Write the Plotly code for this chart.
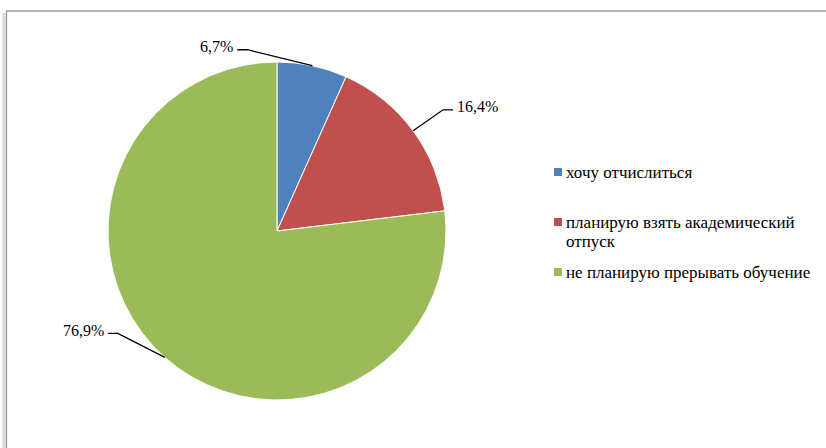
import math
import plotly.graph_objects as go

# Survey answers and their shares, %
categories = [
    "хочу отчислиться",
    "планирую взять академический отпуск",
    "не планирую прерывать обучение",
]
legend_lines = [
    ["хочу отчислиться"],
    ["планирую взять академический", "отпуск"],
    ["не планирую прерывать обучение"],
]
shares = [6.7, 16.4, 76.9]
value_labels = ["6,7%", "16,4%", "76,9%"]
colors = ["#4F81BD", "#C0504D", "#9BBB59"]

# Canvas and pie geometry (pixels)
W, H = 826, 448
CX, CY, R = 277, 231, 169
FONT = "Liberation Serif, Times New Roman, serif"

# Leader-line elbow offsets from the slice edge, and tail direction
elbow_offsets = [(-65, -16), (30, -21), (-47, -24)]
tail_dirs = [-1, 1, -1]
TAIL = 10


def px(x):
    return x / W


def py(y):
    return 1 - y / H


fig = go.Figure(
    go.Pie(
        labels=categories,
        values=shares,
        sort=False,
        direction="clockwise",
        rotation=0,
        marker=dict(colors=colors, line=dict(color="white", width=1)),
        textinfo="none",
        hoverinfo="label+percent",
        showlegend=False,
        domain=dict(x=[px(CX - R), px(CX + R)], y=[py(CY + R), py(CY - R)]),
    )
)

shapes = []
annotations = []

# Outside value labels with leader lines, placed from each slice's mid-angle
total = sum(shares)
cum = 0.0
for val, lab, (dx, dy), d in zip(shares, value_labels, elbow_offsets, tail_dirs):
    mid = (cum + val / 2) / total * 2 * math.pi
    cum += val
    ax = CX + R * math.sin(mid)
    ay = CY - R * math.cos(mid)
    ex, ey = ax + dx, ay + dy
    tx = ex + d * TAIL
    path = f"M {px(ax)} {py(ay)} L {px(ex)} {py(ey)} L {px(tx)} {py(ey)}"
    shapes.append(dict(type="path", xref="paper", yref="paper", path=path,
                       line=dict(color="black", width=1.3)))
    annotations.append(dict(
        x=px(tx + d * 2), y=py(ey - 3), xref="paper", yref="paper",
        text=lab, showarrow=False,
        xanchor="left" if d > 0 else "right", yanchor="middle",
        font=dict(family=FONT, size=16, color="black"),
    ))

# Legend: colour squares with category text
legend_y = [172, 222, 272]
LINE_H = 19
for color, lines, y in zip(colors, legend_lines, legend_y):
    shapes.append(dict(type="rect", xref="paper", yref="paper",
                       x0=px(554), x1=px(562), y0=py(y - 4), y1=py(y + 4),
                       fillcolor=color, line=dict(width=0)))
    for i, line in enumerate(lines):
        annotations.append(dict(
            x=px(564), y=py(y + i * LINE_H), xref="paper", yref="paper",
            text=line, showarrow=False, xanchor="left", yanchor="middle",
            font=dict(family=FONT, size=17, color="black"),
        ))

# Chart frame with a soft shadow on the left
shapes.append(dict(type="line", xref="paper", yref="paper",
                   x0=px(4), x1=px(4), y0=py(13), y1=py(H + 5),
                   line=dict(color="#d6d6d6", width=3)))
shapes.append(dict(type="rect", xref="paper", yref="paper",
                   x0=px(6.5), x1=px(W + 10), y0=py(11), y1=py(H + 10),
                   line=dict(color="#9a9a9a", width=1.3)))

fig.update_layout(
    width=W, height=H,
    margin=dict(l=0, r=0, t=0, b=0),
    paper_bgcolor="white",
    plot_bgcolor="white",
    showlegend=False,
    font=dict(family=FONT),
    shapes=shapes,
    annotations=annotations,
)

fig.write_html("out.html")
